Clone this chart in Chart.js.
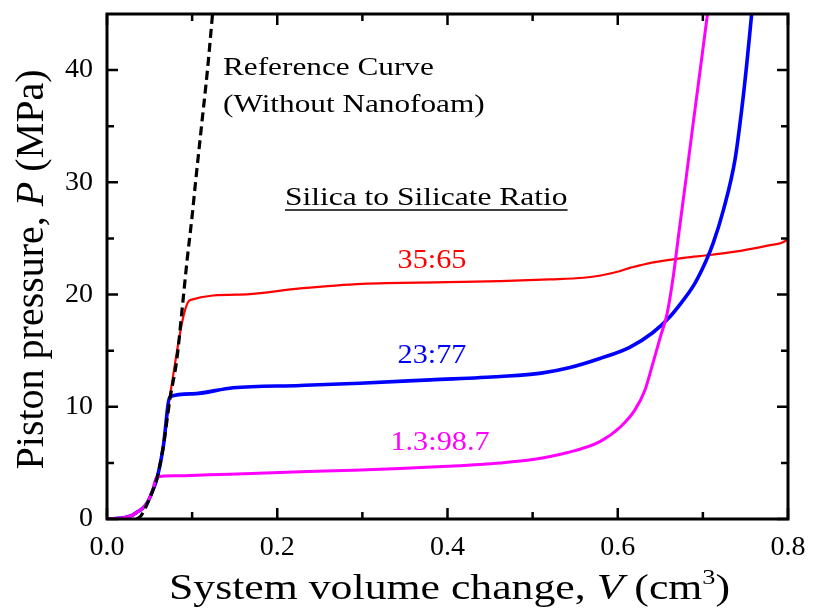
<!DOCTYPE html>
<html>
<head>
<meta charset="utf-8">
<script src="https://cdn.jsdelivr.net/npm/chart.js@4.4.1/dist/chart.umd.min.js"></script>
<style>
    html, body { margin: 0; padding: 0; background: #fff; }
    #wrap { width: 813px; height: 609px; }
</style>
</head>
<body>
<div id="wrap"><canvas id="chartPressure" width="813" height="609"></canvas></div>
<script>
// Axis ticks
const xMajorTicks = [0, 0.2, 0.4, 0.6, 0.8];
const xMinorTicks = [0.1, 0.3, 0.5, 0.7];
const yMajorTicks = [0, 10, 20, 30, 40];
const yMinorTicks = [5, 15, 25, 35];

// Reference curve (without nanofoam)
const refX = [0.035, 0.040, 0.047, 0.053, 0.059, 0.066, 0.074, 0.082, 0.088, 0.094, 0.100, 0.104, 0.111, 0.118, 0.124];
const refY = [0.0, 0.3, 1.3, 2.4, 3.7, 6.4, 10.7, 14.2, 18.5, 23.0, 27.0, 30.0, 35.0, 40.0, 45.0];

// Silica to silicate 1.3:98.7
const ratio13X = [0, 0.010, 0.020, 0.030, 0.035, 0.041, 0.047, 0.053, 0.0585, 0.080, 0.120, 0.170, 0.227, 0.290, 0.344, 0.400, 0.462, 0.500, 0.540, 0.579, 0.603, 0.620, 0.632, 0.641, 0.650, 0.658, 0.665, 0.672, 0.680, 0.688, 0.697, 0.7054];
const ratio13Y = [0, 0.05, 0.12, 0.35, 0.6, 0.9, 1.4, 2.4, 3.75, 3.85, 3.95, 4.05, 4.2, 4.35, 4.5, 4.7, 5.0, 5.3, 5.9, 6.9, 8.2, 9.7, 11.5, 13.8, 16.2, 18.3, 21.5, 25.6, 30.2, 34.9, 40.1, 45.0];

// Silica to silicate 23:77
const ratio23X = [0, 0.010, 0.020, 0.030, 0.035, 0.041, 0.047, 0.053, 0.059, 0.066, 0.074, 0.100, 0.148, 0.227, 0.297, 0.380, 0.462, 0.510, 0.544, 0.579, 0.614, 0.641, 0.661, 0.675, 0.6906, 0.7043, 0.7122, 0.724, 0.7377, 0.7455, 0.7515, 0.7573];
const ratio23Y = [0, 0.05, 0.12, 0.35, 0.6, 0.9, 1.4, 2.4, 3.7, 6.4, 10.9, 11.15, 11.7, 11.9, 12.1, 12.4, 12.7, 13.0, 13.5, 14.3, 15.3, 16.6, 18.0, 19.3, 21.0, 23.1, 24.6, 27.5, 32.0, 36.4, 40.5, 45.0];

// Silica to silicate 35:65
const ratio35X = [0, 0.010, 0.020, 0.030, 0.035, 0.041, 0.047, 0.053, 0.059, 0.066, 0.074, 0.0975, 0.156, 0.227, 0.300, 0.400, 0.462, 0.520, 0.560, 0.580, 0.603, 0.615, 0.626, 0.640, 0.680, 0.705, 0.740, 0.779, 0.792, 0.800];
const ratio35Y = [0, 0.05, 0.12, 0.35, 0.6, 0.9, 1.4, 2.4, 3.7, 6.4, 11.0, 19.5, 20.0, 20.55, 20.95, 21.1, 21.2, 21.35, 21.5, 21.7, 22.1, 22.4, 22.6, 22.85, 23.3, 23.5, 23.85, 24.4, 24.6, 24.9];

const serif = '"Liberation Serif", "Times New Roman", serif';

function toPoints(xs, ys) {
    return xs.map((x, i) => ({ x: x, y: ys[i] }));
}

// Draws text made of parts (italic / superscript), stretched horizontally
function drawRich(ctx, parts, x, y, size, stretch, align, color) {
    ctx.save();
    ctx.translate(x, y);
    ctx.scale(stretch, 1);
    ctx.fillStyle = color;
    ctx.textBaseline = 'alphabetic';
    ctx.textAlign = 'left';
    let total = 0;
    parts.forEach(p => {
        ctx.font = (p.italic ? 'italic ' : '') + (p.sup ? size * 0.6 : size) + 'px ' + serif;
        p.w = ctx.measureText(p.t).width;
        total += p.w;
    });
    let cx = align === 'center' ? -total / 2 : 0;
    parts.forEach(p => {
        ctx.font = (p.italic ? 'italic ' : '') + (p.sup ? size * 0.6 : size) + 'px ' + serif;
        ctx.fillText(p.t, cx, p.sup ? -size * 0.42 : 0);
        cx += p.w;
    });
    ctx.restore();
    return total * stretch;
}

// Frame, inward ticks and all the annotations
const framePlugin = {
    id: 'frame',
    afterDatasetsDraw(chart) {
        const ctx = chart.ctx;
        const a = chart.chartArea;
        const xs = chart.scales.x;
        const ys = chart.scales.y;

        ctx.save();
        ctx.strokeStyle = '#000';
        ctx.lineWidth = 3;
        ctx.strokeRect(a.left, a.top, a.right - a.left, a.bottom - a.top);

        ctx.lineWidth = 2.5;
        ctx.beginPath();
        xMajorTicks.concat(xMinorTicks).forEach(v => {
            const px = xs.getPixelForValue(v);
            const len = xMajorTicks.includes(v) ? 11 : 7;
            ctx.moveTo(px, a.bottom); ctx.lineTo(px, a.bottom - len);
            ctx.moveTo(px, a.top); ctx.lineTo(px, a.top + len);
        });
        yMajorTicks.concat(yMinorTicks).forEach(v => {
            const py = ys.getPixelForValue(v);
            const len = yMajorTicks.includes(v) ? 11 : 7;
            ctx.moveTo(a.left, py); ctx.lineTo(a.left + len, py);
            ctx.moveTo(a.right, py); ctx.lineTo(a.right - len, py);
        });
        ctx.stroke();
        ctx.restore();

        // Axis titles
        drawRich(ctx, [{ t: 'System volume change, ' }, { t: 'V', italic: true }, { t: ' (cm' }, { t: '3', sup: true }, { t: ')' }],
            (a.left + a.right) / 2 + 2, 599, 35, 1.25, 'center', '#000');

        ctx.save();
        ctx.translate(43, (a.top + a.bottom) / 2 + 3);
        ctx.rotate(-Math.PI / 2);
        drawRich(ctx, [{ t: 'Piston pressure, ' }, { t: 'P', italic: true }, { t: ' (MPa)' }], 0, 0, 40, 1, 'center', '#000');
        ctx.restore();

        // Annotations
        drawRich(ctx, [{ t: 'Reference Curve' }], 223, 75, 25, 1.25, 'left', '#000');
        drawRich(ctx, [{ t: '(Without Nanofoam)' }], 223, 112, 25, 1.25, 'left', '#000');
        const w = drawRich(ctx, [{ t: 'Silica to Silicate Ratio' }], 285, 205, 25, 1.26, 'left', '#000');
        ctx.save();
        ctx.strokeStyle = '#000';
        ctx.lineWidth = 1.5;
        ctx.beginPath();
        ctx.moveTo(285, 210); ctx.lineTo(285 + w, 210);
        ctx.stroke();
        ctx.restore();

        drawRich(ctx, [{ t: '35:65' }], 432, 268, 28, 1.08, 'center', '#ff0000');
        drawRich(ctx, [{ t: '23:77' }], 432, 363, 28, 1.08, 'center', '#0000ff');
        drawRich(ctx, [{ t: '1.3:98.7' }], 440, 450, 28, 1.08, 'center', '#ff00ff');
    }
};

document.addEventListener('DOMContentLoaded', () => {
    new Chart(
        document.querySelector('#chartPressure'),
        {
            type: 'line',
            data: {
                datasets: [
                    {
                        label: 'Reference Curve',
                        data: toPoints(refX, refY),
                        borderColor: '#000',
                        borderWidth: 3.2,
                        borderDash: [9, 5],
                        pointRadius: 0,
                        cubicInterpolationMode: 'monotone'
                    },
                    {
                        label: '1.3:98.7',
                        data: toPoints(ratio13X, ratio13Y),
                        borderColor: '#ff00ff',
                        borderWidth: 3,
                        pointRadius: 0,
                        cubicInterpolationMode: 'monotone'
                    },
                    {
                        label: '23:77',
                        data: toPoints(ratio23X, ratio23Y),
                        borderColor: '#0000ff',
                        borderWidth: 3.6,
                        pointRadius: 0,
                        cubicInterpolationMode: 'monotone'
                    },
                    {
                        label: '35:65',
                        data: toPoints(ratio35X, ratio35Y),
                        borderColor: '#ff0000',
                        borderWidth: 2.2,
                        pointRadius: 0,
                        cubicInterpolationMode: 'monotone'
                    }
                ]
            },
            options: {
                responsive: false,
                animation: false,
                layout: {
                    padding: { left: 0, top: 14, right: 25, bottom: 0 }
                },
                plugins: {
                    legend: { display: false },
                    tooltip: { enabled: false },
                    title: { display: false }
                },
                scales: {
                    x: {
                        type: 'linear',
                        min: 0,
                        max: 0.8,
                        grid: { display: false, drawTicks: false },
                        border: { display: false },
                        afterBuildTicks: scale => { scale.ticks = xMajorTicks.map(v => ({ value: v })); },
                        afterFit: scale => {
                            scale.height = 90;
                            scale.paddingLeft = 0;
                            scale.paddingRight = 0;
                        },
                        ticks: {
                            padding: 12,
                            color: '#000',
                            font: { family: serif, size: 28 },
                            callback: v => v.toFixed(1)
                        }
                    },
                    y: {
                        type: 'linear',
                        min: 0,
                        max: 45,
                        grid: { display: false, drawTicks: false },
                        border: { display: false },
                        afterBuildTicks: scale => { scale.ticks = yMajorTicks.map(v => ({ value: v })); },
                        afterFit: scale => {
                            scale.width = 107;
                            scale.paddingTop = 0;
                            scale.paddingBottom = 0;
                        },
                        ticks: {
                            padding: 14,
                            color: '#000',
                            font: { family: serif, size: 28 },
                            callback: v => String(v)
                        }
                    }
                }
            },
            plugins: [framePlugin]
        }
    );
});
</script>
</body>
</html>
